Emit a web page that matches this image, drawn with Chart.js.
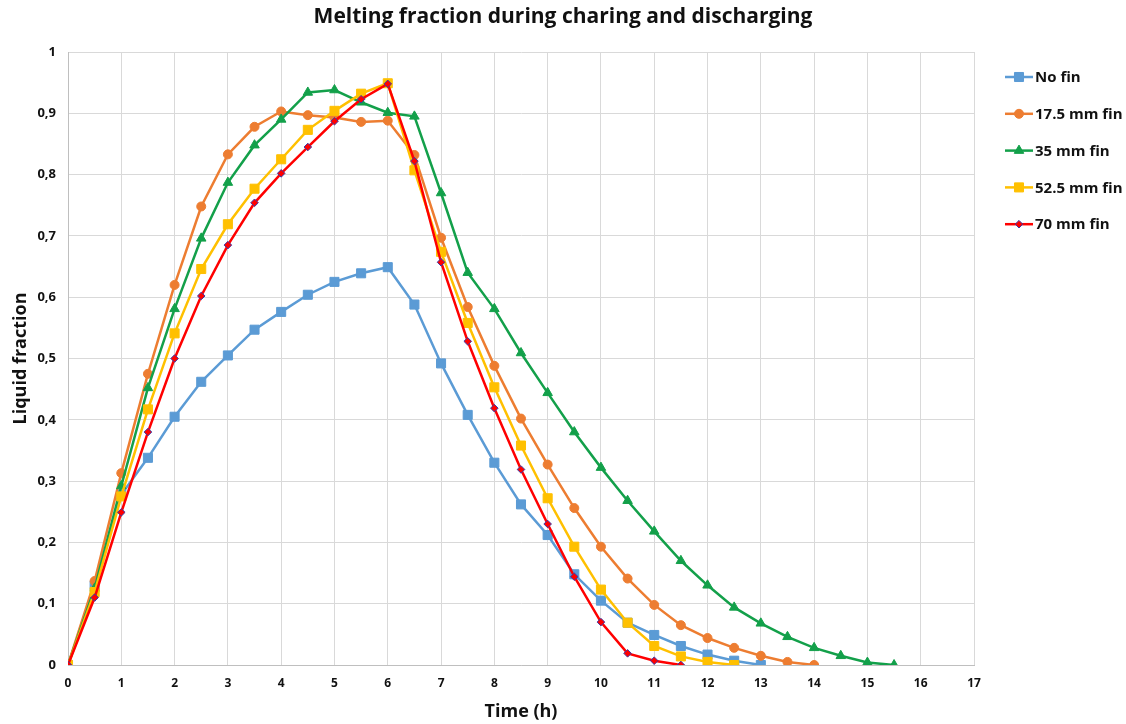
<!DOCTYPE html>
<html>
<head>
<meta charset="utf-8">
<title>Melting fraction</title>
<script src="https://cdn.jsdelivr.net/npm/chart.js@4/dist/chart.umd.min.js"></script>
<style>
  html, body { margin: 0; padding: 0; background: #fff; }
  #wrap { width: 1126px; height: 724px; }
</style>
</head>
<body>
<div id="wrap"><canvas id="chart" width="1126" height="724"></canvas></div>
<script>
// Tiempo en horas (cada 0,5 h)
const hours = [0, 0.5, 1, 1.5, 2, 2.5, 3, 3.5, 4, 4.5, 5, 5.5, 6, 6.5, 7, 7.5,
    8, 8.5, 9, 9.5, 10, 10.5, 11, 11.5, 12, 12.5, 13, 13.5, 14, 14.5, 15, 15.5];

// Fracción líquida de cada caso
const noFin = [0, 0.13, 0.278, 0.338, 0.405, 0.462, 0.505, 0.547, 0.576, 0.604, 0.625, 0.639, 0.649,
    0.588, 0.492, 0.408, 0.330, 0.262, 0.212, 0.148, 0.105, 0.069, 0.049, 0.031, 0.017, 0.007, 0];
const fin175 = [0, 0.137, 0.313, 0.475, 0.620, 0.748, 0.833, 0.878, 0.903, 0.897, 0.893, 0.886, 0.888,
    0.832, 0.697, 0.584, 0.488, 0.402, 0.327, 0.256, 0.193, 0.141, 0.098, 0.065, 0.044, 0.028, 0.015, 0.005, 0];
const fin35 = [0, 0.125, 0.292, 0.452, 0.581, 0.696, 0.787, 0.848, 0.890, 0.934, 0.938, 0.918, 0.901,
    0.895, 0.770, 0.640, 0.581, 0.509, 0.444, 0.380, 0.322, 0.268, 0.218, 0.170, 0.130, 0.094, 0.068,
    0.046, 0.028, 0.015, 0.004, 0];
const fin525 = [0, 0.119, 0.275, 0.417, 0.541, 0.646, 0.719, 0.777, 0.825, 0.873, 0.904, 0.932, 0.949,
    0.807, 0.674, 0.558, 0.453, 0.358, 0.272, 0.193, 0.123, 0.069, 0.031, 0.014, 0.005, 0];
const fin70 = [0, 0.110, 0.249, 0.380, 0.500, 0.602, 0.685, 0.754, 0.802, 0.845, 0.887, 0.923, 0.948,
    0.822, 0.657, 0.528, 0.419, 0.319, 0.230, 0.144, 0.070, 0.019, 0.007, 0];

const seriesNames = ['No fin', '17.5 mm fin', '35 mm fin', '52.5 mm fin', '70 mm fin'];
const xTicks = [0, 1, 2, 3, 4, 5, 6, 7, 8, 9, 10, 11, 12, 13, 14, 15, 16, 17];
const yTicks = [0, 0.1, 0.2, 0.3, 0.4, 0.5, 0.6, 0.7, 0.8, 0.9, 1];
const chartTitle = 'Melting fraction during charing and discharging';

const FONT = '"Open Sans", Lato, sans-serif';

const styles = [
    { color: '#5b9bd5', fill: '#5b9bd5', border: '#5b9bd5', shape: 'rect', radius: 6.4 },
    { color: '#ed7d31', fill: '#ed7d31', border: '#ed7d31', shape: 'circle', radius: 4.5 },
    { color: '#13a04a', fill: '#13a04a', border: '#13a04a', shape: 'triangle', radius: 5.5 },
    { color: '#ffc000', fill: '#ffc000', border: '#ffc000', shape: 'rect', radius: 6.4 },
    { color: '#ff0000', fill: '#ff0000', border: '#3b3ba8', shape: 'rectRot', radius: 3.8 }
];

function toPoints(values) {
    return values.map((v, i) => ({ x: hours[i], y: v }));
}

const allSeries = [noFin, fin175, fin35, fin525, fin70];

const datasets = allSeries.map((values, i) => ({
    label: seriesNames[i],
    data: toPoints(values),
    borderColor: styles[i].color,
    backgroundColor: styles[i].fill,
    pointBackgroundColor: styles[i].fill,
    pointBorderColor: styles[i].border,
    pointBorderWidth: 1,
    pointStyle: styles[i].shape,
    pointRadius: styles[i].radius,
    borderWidth: 2.5,
    tension: 0,
    order: allSeries.length - i
}));

// Dibuja un marcador simple para la leyenda
function drawMarker(ctx, st, x, y) {
    const r = st.radius;
    ctx.save();
    ctx.fillStyle = st.fill;
    ctx.strokeStyle = st.border;
    ctx.lineWidth = 1;
    ctx.beginPath();
    if (st.shape === 'rect') {
        const s = Math.SQRT1_2 * r;
        ctx.rect(x - s, y - s, 2 * s, 2 * s);
    } else if (st.shape === 'circle') {
        ctx.arc(x, y, r, 0, Math.PI * 2);
    } else if (st.shape === 'triangle') {
        ctx.moveTo(x, y - r);
        ctx.lineTo(x + r * Math.sin(Math.PI * 2 / 3), y - r * Math.cos(Math.PI * 2 / 3));
        ctx.lineTo(x + r * Math.sin(Math.PI * 4 / 3), y - r * Math.cos(Math.PI * 4 / 3));
        ctx.closePath();
    } else {
        ctx.moveTo(x, y - r);
        ctx.lineTo(x + r, y);
        ctx.lineTo(x, y + r);
        ctx.lineTo(x - r, y);
        ctx.closePath();
    }
    ctx.fill();
    ctx.stroke();
    ctx.restore();
}

// Título centrado en todo el lienzo
const pageTitle = {
    id: 'pageTitle',
    afterDraw(chart) {
        const ctx = chart.ctx;
        ctx.save();
        ctx.fillStyle = '#111';
        ctx.font = 'bold 21px ' + FONT;
        ctx.textAlign = 'center';
        ctx.textBaseline = 'middle';
        ctx.fillText(chartTitle, chart.width / 2, 17);
        ctx.restore();
    }
};

// Leyenda a la derecha: línea + marcador + texto
const sideLegend = {
    id: 'sideLegend',
    afterDraw(chart) {
        const ctx = chart.ctx;
        const x0 = 1005, x1 = 1033;
        chart.data.datasets.forEach((ds, i) => {
            const y = 77 + i * 36.8;
            ctx.save();
            ctx.strokeStyle = ds.borderColor;
            ctx.lineWidth = 2.5;
            ctx.beginPath();
            ctx.moveTo(x0, y);
            ctx.lineTo(x1, y);
            ctx.stroke();
            ctx.restore();
            drawMarker(ctx, styles[i], (x0 + x1) / 2, y);
            ctx.save();
            ctx.fillStyle = '#111';
            ctx.font = 'bold 15px ' + FONT;
            ctx.textBaseline = 'middle';
            ctx.fillText(ds.label, x1 + 2, y + 1);
            ctx.restore();
        });
    }
};

new Chart(document.getElementById('chart'), {
    type: 'line',
    data: { datasets },
    options: {
        responsive: false,
        animation: false,
        layout: { padding: { top: 52, right: 152, bottom: 0, left: 0 } },
        plugins: {
            legend: { display: false },
            tooltip: { enabled: false },
            title: { display: false }
        },
        scales: {
            x: {
                type: 'linear',
                min: 0,
                max: 17,
                afterFit: s => { s.height = 59; },
                afterBuildTicks: s => { s.ticks = xTicks.map(v => ({ value: v })); },
                ticks: {
                    color: '#111',
                    font: { family: FONT, size: 12, weight: 'bold' },
                    padding: 11,
                    maxRotation: 0,
                    autoSkip: false
                },
                grid: { color: '#d9d9d9', lineWidth: 1, drawTicks: false },
                border: { color: '#bfbfbf' },
                title: {
                    display: true,
                    text: 'Time (h)',
                    color: '#111',
                    font: { family: FONT, size: 18, weight: 'bold' },
                    padding: { top: 0, bottom: 1 }
                }
            },
            y: {
                min: 0,
                max: 1,
                afterFit: s => { s.width = 68; },
                afterBuildTicks: s => { s.ticks = yTicks.map(v => ({ value: v })); },
                ticks: {
                    color: '#111',
                    font: { family: FONT, size: 13, weight: 'bold' },
                    padding: 12,
                    callback: v => String(Math.round(v * 10) / 10).replace('.', ',')
                },
                grid: { color: '#d9d9d9', lineWidth: 1, drawTicks: false },
                border: { color: '#bfbfbf' },
                title: {
                    display: true,
                    text: 'Liquid fraction',
                    color: '#111',
                    font: { family: FONT, size: 18, weight: 'bold' },
                    padding: { top: 10, bottom: 0 }
                }
            }
        }
    },
    plugins: [pageTitle, sideLegend]
});
</script>
</body>
</html>
